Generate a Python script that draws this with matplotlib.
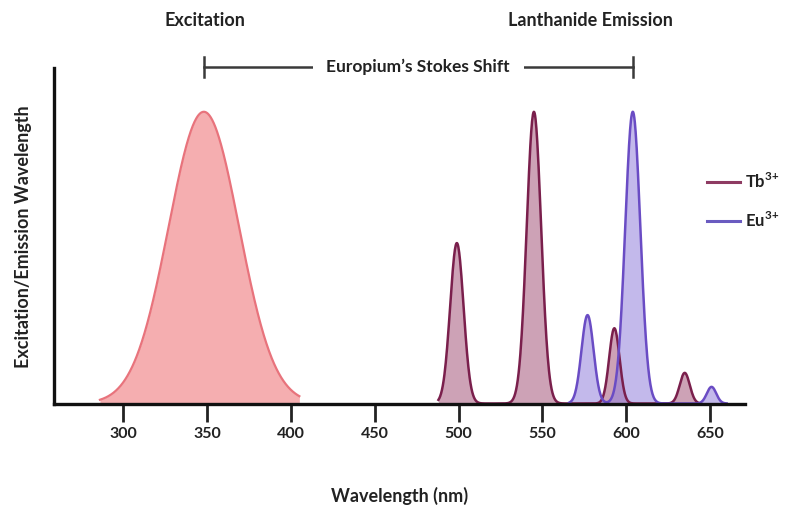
import numpy as np
import matplotlib
matplotlib.use("Agg")
import matplotlib.pyplot as plt
from matplotlib.lines import Line2D

plt.rcParams['font.family'] = ['Lato', 'DejaVu Sans']
plt.rcParams['font.weight'] = 'bold'
plt.rcParams['mathtext.fontset'] = 'custom'
plt.rcParams['mathtext.rm'] = 'Lato:bold'
plt.rcParams['mathtext.bf'] = 'Lato:bold'

# peak data (centre nm, relative height, width nm)
exc_center = [348]
exc_height = [1.0]
exc_sigma = [21.0]
exc_range = (286, 405)

tb_center = [499, 545, 593, 635]
tb_height = [0.55, 1.0, 0.258, 0.105]
tb_sigma = [4.0, 4.3, 3.1, 3.0]
tb_range = (488, 643)

eu_center = [577, 604, 651]
eu_height = [0.303, 1.0, 0.057]
eu_sigma = [3.6, 4.5, 2.8]
eu_range = (566, 660)

xticks = [300, 350, 400, 450, 500, 550, 600, 650]

exc_col, exc_fill = '#e8737c', '#f5aeb0'
tb_col, tb_fill = '#7a1f4c', '#a5577a'
eu_col, eu_fill = '#6a4cc4', '#9280dc'


def spectrum(rng, centers, heights, sigmas):
    x = np.linspace(rng[0], rng[1], 600)
    y = np.zeros_like(x)
    for c, h, s in zip(centers, heights, sigmas):
        y += h * np.exp(-0.5 * ((x - c) / s) ** 2)
    return x, y


fig = plt.figure(figsize=(7.9, 5.08), dpi=100)
ax = fig.add_axes([0.0684, 0.2057, 0.8747, 0.6604])

x, y = spectrum(exc_range, exc_center, exc_height, exc_sigma)
ax.fill_between(x, y, color=exc_fill, lw=0)
ax.plot(x, y, color=exc_col, lw=1.6)

x, y = spectrum(tb_range, tb_center, tb_height, tb_sigma)
ax.fill_between(x, y, color=tb_fill, alpha=0.55, lw=0)
ax.plot(x, y, color=tb_col, lw=1.8)

x, y = spectrum(eu_range, eu_center, eu_height, eu_sigma)
ax.fill_between(x, y, color=eu_fill, alpha=0.55, lw=0)
ax.plot(x, y, color=eu_col, lw=1.8)

ax.set_xlim(258.6, 671)
ax.set_ylim(0, 1.15)
ax.set_xticks(xticks)
ax.set_yticks([])
for s in ['top', 'right']:
    ax.spines[s].set_visible(False)
for s in ['left', 'bottom']:
    ax.spines[s].set_linewidth(2.4)
    ax.spines[s].set_color('#111111')
ax.tick_params(axis='x', length=13, width=2, color='#222222', pad=4,
               labelsize=11.5, labelcolor='#222222')

ax.set_xlabel('Wavelength (nm)', fontsize=13, fontweight='bold',
              color='#222222', labelpad=33)
fig.text(0.03, 0.535, 'Excitation/Emission Wavelength', rotation=90,
         ha='center', va='center', fontsize=13, color='#222222')

# headings
fig.text(205 / 790, 1 - 20 / 508, 'Excitation', ha='center', va='center',
         fontsize=13, color='#222222')
fig.text(590 / 790, 1 - 20 / 508, 'Lanthanide Emission', ha='center',
         va='center', fontsize=13, color='#222222')

# Stokes shift bracket from excitation peak to Eu emission peak
trans = ax.get_xaxis_transform()
x0, x1 = exc_center[0], eu_center[1]
yb = 1.003
ax.plot([x0, x1], [yb, yb], color='#3a3a3a', lw=1.8, transform=trans,
        clip_on=False)
for xe in (x0, x1):
    ax.plot([xe, xe], [yb - 0.03, yb + 0.03], color='#3a3a3a', lw=1.8,
            transform=trans, clip_on=False)
ax.text(476, yb, 'Europium\u2019s Stokes Shift', transform=trans,
        ha='center', va='center', fontsize=12.5, color='#222222',
        bbox=dict(boxstyle='square,pad=0.8', fc='white', ec='none'))

handles = [Line2D([], [], color='#8e3b62', lw=2.2),
           Line2D([], [], color='#6a5bc0', lw=2.2)]
fig.legend(handles, [r'Tb$^{\mathbf{3\!+}}$', r'Eu$^{\mathbf{3\!+}}$'],
           loc='upper left', bbox_to_anchor=(0.895, 0.662), frameon=False,
           fontsize=12, handlelength=2.0, handletextpad=0.3,
           labelspacing=1.15, borderpad=0, borderaxespad=0,
           labelcolor='#222222')

fig.savefig('out.png', dpi=100, facecolor='white')
